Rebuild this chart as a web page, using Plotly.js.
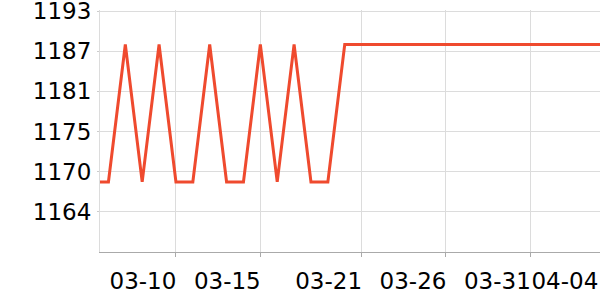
<!DOCTYPE html>
<html>
<head>
<meta charset="utf-8">
<script src="https://cdn.plot.ly/plotly-3.0.1.min.js"></script>
<style>html,body{margin:0;padding:0;background:#fff;}#chart{width:600px;height:300px;}</style>
</head>
<body>
<div id="chart"></div>
<script>
// Data
const dates = [
  '2024-03-05','2024-03-06','2024-03-07','2024-03-08','2024-03-09','2024-03-10',
  '2024-03-11','2024-03-12','2024-03-13','2024-03-14','2024-03-15','2024-03-16',
  '2024-03-17','2024-03-18','2024-03-19','2024-03-20','2024-03-21','2024-03-22',
  '2024-03-23','2024-03-24','2024-03-25','2024-03-26','2024-03-27','2024-03-28',
  '2024-03-29','2024-03-30','2024-03-31','2024-04-01','2024-04-02','2024-04-03',
  '2024-04-04','2024-04-05'
];
const values = [
  1168.3,1168.3,1187.8,1168.3,1187.8,1168.3,
  1168.3,1187.8,1168.3,1168.3,1187.8,1168.3,
  1187.8,1168.3,1168.3,1187.8,1187.8,1187.8,
  1187.8,1187.8,1187.8,1187.8,1187.8,1187.8,
  1187.8,1187.8,1187.8,1187.8,1187.8,1187.8,
  1187.8,1187.8
];
const xTickDates = ['2024-03-10','2024-03-15','2024-03-21','2024-03-26','2024-03-31'];
const xTickLabels = ['03-10','03-15','03-21','03-26','03-31'];
const xLastTickDate = ['2024-04-04'];
const xLastTickLabel = ['04-04'];
const yTickVals = [1164.05,1169.75,1175.45,1181.15,1186.85,1192.55];
const yTickLabels = ['1164','1170','1175','1181','1187','1193'];
const yRange = [1158.35, 1192.7];

const xRange = ['2024-03-05 12:00','2024-04-04 03:00'];
const fontSpec = {family:'DejaVu Sans', size:23, color:'#000'};

const trace = {
  x: dates, y: values, type:'scatter', mode:'lines',
  line:{color:'#ef4a2e', width:3}, hoverinfo:'skip'
};
const trace2 = {x:[xLastTickDate[0]], y:[values[0]], xaxis:'x2', yaxis:'y', mode:'none', showlegend:false, hoverinfo:'skip'};

const layout = {
  width:600, height:300,
  margin:{l:100, r:0, t:10, b:48},
  paper_bgcolor:'#fff', plot_bgcolor:'#fff',
  showlegend:false,
  font: fontSpec,
  xaxis:{
    type:'date', range:xRange,
    tickmode:'array', tickvals:xTickDates, ticktext:xTickLabels,
    showgrid:true, gridcolor:'#dcdcdc', gridwidth:1,
    showline:true, linecolor:'#aaaaaa', linewidth:1,
    ticks:'outside', ticklen:4, tickcolor:'#aaaaaa',
    tickfont:fontSpec, ticklabelshift:-33, ticklabelstandoff:4,
    zeroline:false
  },
  xaxis2:{
    type:'date', range:xRange, overlaying:'x', side:'bottom', anchor:'y',
    tickmode:'array', tickvals:xLastTickDate, ticktext:xLastTickLabel,
    showgrid:false, showline:false, ticks:'outside', ticklen:4, tickcolor:'rgba(0,0,0,0)',
    tickfont:fontSpec, ticklabelshift:-33, ticklabelstandoff:4,
    ticklabeloverflow:'allow', zeroline:false
  },
  yaxis:{
    range:yRange,
    tickmode:'array', tickvals:yTickVals, ticktext:yTickLabels,
    showgrid:true, gridcolor:'#dcdcdc', gridwidth:1,
    showline:true, linecolor:'#dcdcdc', linewidth:1,
    ticks:'outside', ticklen:2, tickcolor:'#cccccc',
    tickfont:fontSpec, ticklabelstandoff:1, ticklabeloverflow:'allow',
    zeroline:false
  }
};

Plotly.newPlot('chart', [trace, trace2], layout, {staticPlot:true, displayModeBar:false});
</script>
</body>
</html>
